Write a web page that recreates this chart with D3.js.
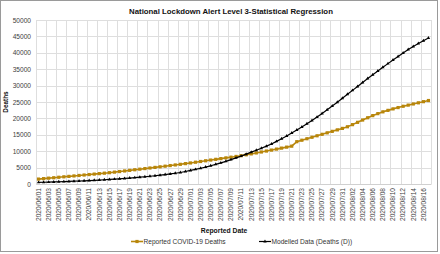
<!DOCTYPE html>
<html>
<head>
<meta charset="utf-8">
<script src="https://cdn.jsdelivr.net/npm/d3@7/dist/d3.min.js"></script>
<style>
  html, body { margin: 0; padding: 0; background: #fff; }
  svg { display: block; font-family: "Liberation Sans", Arial, sans-serif; }
</style>
</head>
<body>
<div id="chart"></div>
<script>
const dates = [
  '2020/06/01','2020/06/02','2020/06/03','2020/06/04','2020/06/05','2020/06/06','2020/06/07','2020/06/08','2020/06/09','2020/06/10',
  '2020/06/11','2020/06/12','2020/06/13','2020/06/14','2020/06/15','2020/06/16','2020/06/17','2020/06/18','2020/06/19','2020/06/20',
  '2020/06/21','2020/06/22','2020/06/23','2020/06/24','2020/06/25','2020/06/26','2020/06/27','2020/06/28','2020/06/29','2020/06/30',
  '2020/07/01','2020/07/02','2020/07/03','2020/07/04','2020/07/05','2020/07/06','2020/07/07','2020/07/08','2020/07/09','2020/07/10',
  '2020/07/11','2020/07/12','2020/07/13','2020/07/14','2020/07/15','2020/07/16','2020/07/17','2020/07/18','2020/07/19','2020/07/20',
  '2020/07/21','2020/07/22','2020/07/23','2020/07/24','2020/07/25','2020/07/26','2020/07/27','2020/07/28','2020/07/29','2020/07/30',
  '2020/07/31','2020/08/01','2020/08/02','2020/08/03','2020/08/04','2020/08/05','2020/08/06','2020/08/07','2020/08/08','2020/08/09',
  '2020/08/10','2020/08/11','2020/08/12','2020/08/13','2020/08/14','2020/08/15','2020/08/16','2020/08/17'
];

const reportedDeaths = [
  1500, 1640, 1780, 1910, 2050, 2190, 2320, 2460, 2600, 2740,
  2880, 3020, 3160, 3300, 3450, 3620, 3800, 3980, 4160, 4340,
  4520, 4700, 4880, 5060, 5240, 5430, 5620, 5810, 6000, 6210,
  6420, 6640, 6860, 7080, 7300, 7520, 7740, 7960, 8180, 8400,
  8620, 8900, 9180, 9470, 9760, 10050, 10340, 10640, 10940, 11240,
  11540, 12900, 13350, 13800, 14250, 14700, 15150, 15600, 16050, 16500,
  16950, 17450, 18100, 18800, 19500, 20200, 20850, 21450, 22000, 22450,
  22900, 23300, 23700, 24050, 24400, 24750, 25100, 25450
];

const modelledDeaths = [
  500, 540, 580, 630, 680, 730, 790, 850, 910, 980,
  1050, 1130, 1210, 1300, 1390, 1490, 1590, 1700, 1820, 1940,
  2070, 2210, 2360, 2520, 2690, 2870, 3070, 3280, 3500, 3820,
  4140, 4470, 4810, 5160, 5570, 6000, 6450, 6910, 7440, 7960,
  8500, 9100, 9700, 10300, 10920, 11540, 12200, 13000, 13800, 14650,
  15550, 16450, 17400, 18350, 19350, 20400, 21500, 22650, 23800, 24950,
  26150, 27350, 28550, 29750, 30950, 32150, 33300, 34450, 35600, 36700,
  37800, 38900, 39950, 41000, 41950, 42850, 43700, 44500
];

const yTicks = [0, 5000, 10000, 15000, 20000, 25000, 30000, 35000, 40000, 45000, 50000];
const xTickLabels = dates.filter((d, i) => i % 2 === 0);

const seriesNames = ['Reported COVID-19 Deaths', 'Modelled Data (Deaths (D))'];
const gold = '#b8860b';

const width = 440;
const height = 254;
const plot = { left: 36, right: 431, top: 20, bottom: 184 };

const svg = d3.select('#chart').append('svg')
  .attr('width', width)
  .attr('height', height);

svg.append('rect')
  .attr('x', 0.5).attr('y', 0.5)
  .attr('width', 437).attr('height', 251)
  .attr('fill', '#fff')
  .attr('stroke', '#9a9a9a');

const x = d3.scaleBand().domain(dates).range([plot.left, plot.right]).padding(0);
const y = d3.scaleLinear().domain([0, 50000]).range([plot.bottom, plot.top]);
const cx = (d) => x(d) + x.bandwidth() / 2;

// gridlines
const grid = svg.append('g').attr('stroke', '#dedede').attr('stroke-width', 1);
grid.selectAll('line.h').data(yTicks).join('line')
  .attr('class', 'h')
  .attr('x1', plot.left).attr('x2', plot.right)
  .attr('y1', (d) => Math.round(y(d)) + 0.5)
  .attr('y2', (d) => Math.round(y(d)) + 0.5);
const vEdges = xTickLabels.map((d) => x(d)).concat([plot.right]);
grid.selectAll('line.v').data(vEdges).join('line')
  .attr('class', 'v')
  .attr('x1', (d) => Math.round(d) + 0.5).attr('x2', (d) => Math.round(d) + 0.5)
  .attr('y1', plot.top).attr('y2', plot.bottom);

// axes
const yAxis = svg.append('g')
  .attr('transform', `translate(${plot.left},0)`)
  .call(d3.axisLeft(y).tickValues(yTicks).tickSize(0).tickPadding(5).tickFormat(d3.format('d')));
yAxis.select('.domain').remove();
yAxis.selectAll('text').attr('font-size', 6.6).attr('fill', '#404040')
  .attr('font-family', '"Liberation Sans", Arial, sans-serif');

const xAxis = svg.append('g')
  .attr('transform', `translate(0,${plot.bottom})`)
  .call(d3.axisBottom(x).tickValues(xTickLabels).tickSize(0));
xAxis.select('.domain').attr('stroke', '#d0d0d0');
xAxis.selectAll('text')
  .attr('font-size', 6.6).attr('fill', '#404040')
  .attr('font-family', '"Liberation Sans", Arial, sans-serif')
  .attr('transform', 'rotate(-90)')
  .attr('x', -4).attr('y', 0).attr('dy', '0.35em')
  .style('text-anchor', 'end');

// lines
const line = (values) => d3.line()
  .x((d, i) => cx(dates[i]))
  .y((d) => y(d))(values);

svg.append('path').attr('d', line(reportedDeaths))
  .attr('fill', 'none').attr('stroke', gold).attr('stroke-width', 1.6);
svg.append('g').selectAll('rect').data(reportedDeaths).join('rect')
  .attr('x', (d, i) => cx(dates[i]) - 1.6)
  .attr('y', (d) => y(d) - 1.6)
  .attr('width', 3.2).attr('height', 3.2)
  .attr('fill', gold);

svg.append('path').attr('d', line(modelledDeaths))
  .attr('fill', 'none').attr('stroke', '#000').attr('stroke-width', 1.2);
const tri = d3.symbol().type(d3.symbolTriangle).size(5);
svg.append('g').selectAll('path').data(modelledDeaths).join('path')
  .attr('d', tri)
  .attr('transform', (d, i) => `translate(${cx(dates[i])},${y(d)})`)
  .attr('fill', '#000');

// titles
svg.append('text')
  .attr('x', 231).attr('y', 13.5)
  .attr('text-anchor', 'middle')
  .attr('font-size', 7.8).attr('font-weight', 'bold').attr('fill', '#111')
  .text('National Lockdown Alert Level 3-Statistical Regression');

svg.append('text')
  .attr('transform', `translate(8,${(plot.top + plot.bottom) / 2}) rotate(-90)`)
  .attr('text-anchor', 'middle')
  .attr('font-size', 6.4).attr('font-weight', 'bold').attr('fill', '#111')
  .text('Deaths');

svg.append('text')
  .attr('x', 224).attr('y', 233)
  .attr('text-anchor', 'middle')
  .attr('font-size', 6.8).attr('font-weight', 'bold').attr('fill', '#111')
  .text('Reported Date');

// legend
const legend = svg.append('g').attr('transform', 'translate(0,241.5)');
const items = [
  { name: seriesNames[0], color: gold, x: 131 },
  { name: seriesNames[1], color: '#000', x: 259 }
];
const li = legend.selectAll('g').data(items).join('g')
  .attr('transform', (d) => `translate(${d.x},0)`);
li.append('line')
  .attr('x1', 0).attr('x2', 12).attr('y1', 0).attr('y2', 0)
  .attr('stroke', (d) => d.color).attr('stroke-width', (d, i) => (i === 0 ? 1.6 : 1.2));
li.filter((d, i) => i === 0).append('rect')
  .attr('x', 4.4).attr('y', -1.6).attr('width', 3.2).attr('height', 3.2).attr('fill', gold);
li.filter((d, i) => i === 1).append('path')
  .attr('d', tri).attr('transform', 'translate(6,0)').attr('fill', '#000');
li.append('text')
  .attr('x', 12.5).attr('y', 0).attr('dy', '0.35em')
  .attr('font-size', 6.6).attr('fill', '#333')
  .text((d) => d.name);
</script>
</body>
</html>
